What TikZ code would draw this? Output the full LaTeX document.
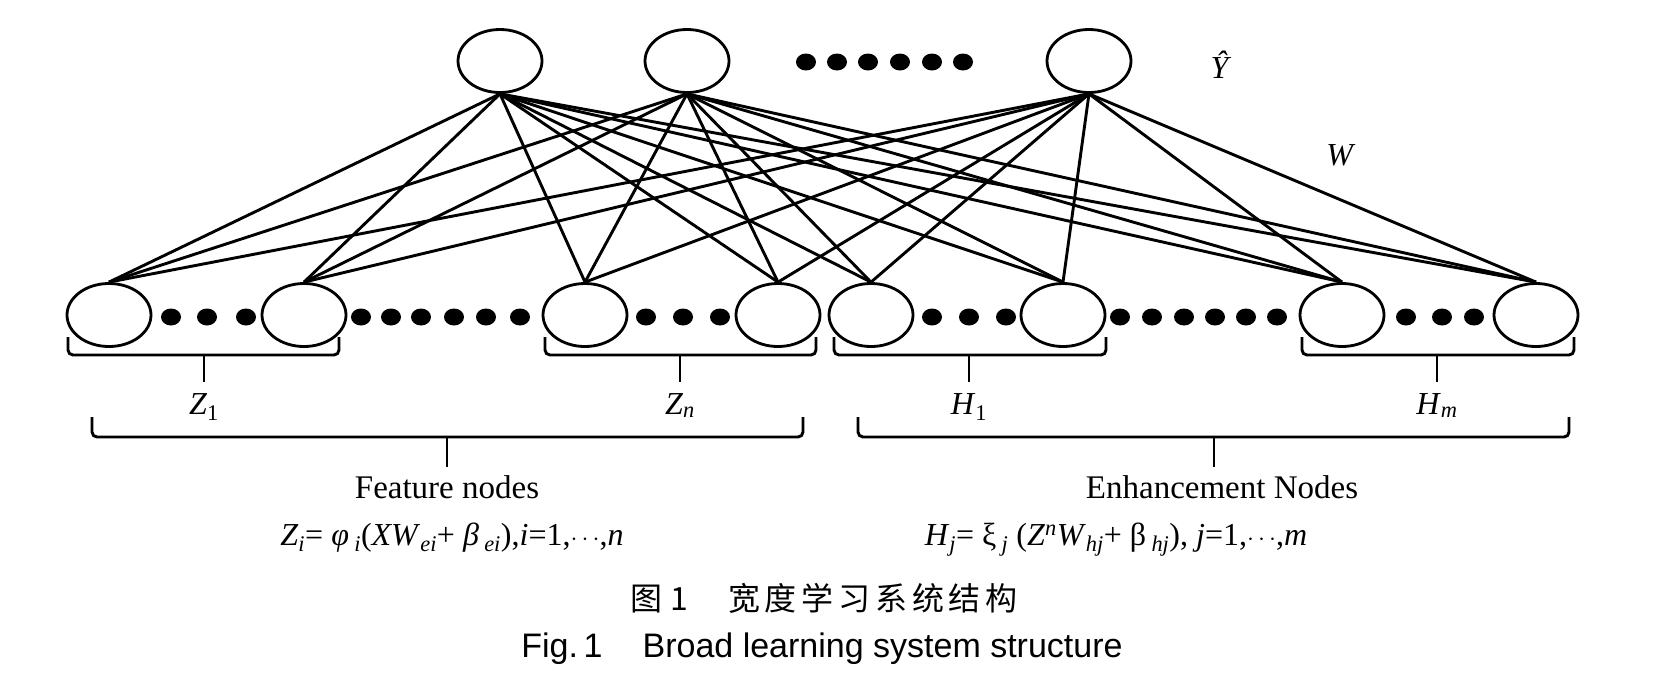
\documentclass[tikz,border=0pt]{standalone}
\usepackage{fontspec}
\setmainfont{Liberation Serif}
\setsansfont{Liberation Sans}
\newfontfamily\cjk[LetterSpace=15]{Noto Sans CJK SC}
\usetikzlibrary{shapes.geometric}

\tikzset{
  neuron/.style={ellipse, draw, line width=2.8pt, minimum width=84pt, minimum height=63pt, inner sep=0pt},
  wire/.style={line width=2.9pt},
  bracket/.style={line width=2.9pt, rounded corners=5pt},
  lbl/.style={font=\fontsize{32}{38}\selectfont, anchor=base, inner sep=0pt},
  title/.style={font=\fontsize{33}{40}\selectfont, anchor=base, inner sep=0pt}
}

\begin{document}
\begin{tikzpicture}[x=1pt, y=-1pt]
  \fill [white] (0,0) rectangle (1673,697);
  % output layer
  \foreach \x/\n in {500/t1, 687/t2, 1089/t3} {
    \node [neuron] (\n) at (\x, 61) {};
  }
  \foreach \x in {806,837,868,900,932,963} {
    \fill (\x, 62) ellipse (10 and 8.5);
  }
  % feature and enhancement nodes
  \foreach \x/\n in {109/b1, 304/b2, 585/b3, 778/b4, 871/b5, 1063/b6, 1342/b7, 1536/b8} {
    \node [neuron] (\n) at (\x, 315) {};
  }
  \foreach \x in {171,207,246, 361,391,421,454,486,520, 646,683,720, 932,969,1006, 1120,1152,1184,1215,1246,1277, 1406,1442,1474} {
    \fill (\x, 317) ellipse (10 and 8.5);
  }
  % weights
  \foreach \t in {t1,t2,t3} {
    \foreach \b in {b1,b2,b3,b4,b5,b6,b7,b8} {
      \draw [wire] (\t.south) -- (\b.north);
    }
  }
  \node [lbl] (yhat) at (1221, 78) {\textit{\^Y}};
  \node [lbl] (w) at (1341, 165) {\textit{W}};
  % brackets under the groups
  \foreach \l/\r/\m/\t/\h/\d in {68/339/204/337/355/382, 545/816/680/337/355/382, 834/1106/969/337/355/382, 1302/1574/1437/337/355/382, 92/803/447/417/437/467, 858/1569/1214/417/437/467} {
    \draw [bracket] (\l, \t) |- (\r, \h) -- (\r, \t);
    \draw [bracket] (\m, \h) -- (\m, \d);
  }
  \node [lbl] (z1) at (204, 414) {\textit{Z}\textsubscript{1}};
  \node [lbl] (zn) at (680, 414) {\textit{Z}\textsubscript{\textit{n}}};
  \node [lbl] (h1) at (969, 414) {\textit{H}\textsubscript{1}};
  \node [lbl] (hm) at (1437, 414) {\textit{H}\textsubscript{\textit{m}}};
  \node [title] (feat) at (447, 498) {Feature nodes};
  \node [title] (enh) at (1222, 498) {Enhancement Nodes};
  \node [lbl] (zeq) at (452, 545) {\textit{Z}\textsubscript{\textit{i}}= \textit{φ}\,\textsubscript{\textit{i}}(\textit{XW}\textsubscript{\textit{ei}}+ \textit{β}\,\textsubscript{\textit{ei}}),\textit{i}=1,$\cdots$,\textit{n}};
  \node [lbl] (heq) at (1116, 545) {\textit{H}\textsubscript{\textit{j}}= ξ\,\textsubscript{\textit{j}} (\textit{Z}\textsuperscript{\textit{n}}\textit{W}\textsubscript{\textit{hj}}+ β\,\textsubscript{\textit{hj}}), \textit{j}=1,$\cdots$,\textit{m}};
  % caption
  \node [font=\cjk\fontsize{32}{38}\selectfont, inner sep=0pt] (capcn) at (824, 598) {图\hspace{8pt}1\hspace{40pt}宽度学习系统结构};
  \node [font=\sffamily\fontsize{34}{40}\selectfont, anchor=base, inner sep=0pt] (capen) at (822, 657) {Fig.\,1\hspace{40pt}Broad learning system structure};
\end{tikzpicture}
\end{document}
